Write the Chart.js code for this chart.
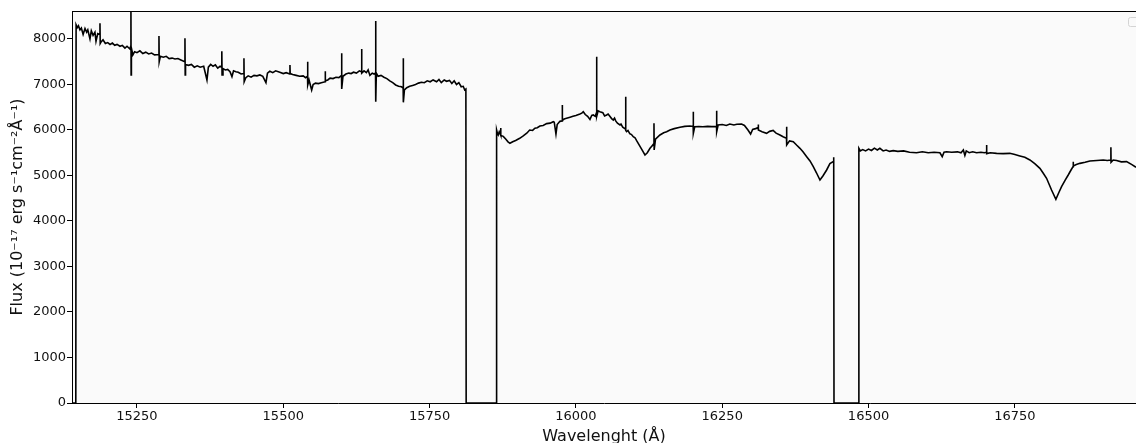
<!DOCTYPE html>
<html>
<head>
<meta charset="utf-8">
<script src="https://cdn.jsdelivr.net/npm/chart.js@4/dist/chart.umd.min.js"></script>
<style>
  body { margin: 0; background: #fff; overflow: hidden; }
</style>
</head>
<body>
<canvas id="spec" width="1136" height="443"></canvas>
<script>
// spectrum (wavelength in Å, flux in 1e-17 erg/s/cm2/Å)
const wavelength = [
  15140, 15145.5, 15146, 15148, 15150, 15152.6, 15155, 15158, 15161.2, 15164, 15166, 15169.7, 15172, 15175,
  15178.2, 15180, 15183, 15186.5, 15186.8, 15187.2, 15189, 15192, 15196, 15200, 15204, 15208, 15212, 15216,
  15221, 15225, 15229.5, 15233, 15238, 15239.5, 15239.7, 15240, 15240.5, 15243, 15246, 15250, 15255, 15260,
  15265, 15270, 15275, 15280, 15287.3, 15287.6, 15288, 15290, 15295, 15300, 15305, 15310, 15315, 15320,
  15325, 15331.7, 15332, 15332.4, 15333, 15338, 15343, 15348, 15353, 15358, 15364, 15369.6, 15372, 15376,
  15380, 15384, 15388, 15392, 15394.7, 15395, 15395.4, 15397, 15401, 15405, 15409, 15412.3, 15415, 15419,
  15423, 15428, 15432.5, 15432.8, 15433.2, 15436, 15440, 15445, 15450, 15455, 15460, 15465, 15470.4, 15473,
  15477, 15482, 15487, 15494, 15500, 15505, 15511, 15511.4, 15511.8, 15516, 15522, 15528, 15534, 15538,
  15541.4, 15541.6, 15541.9, 15544, 15548.5, 15551, 15555, 15560, 15565, 15571.5, 15571.7, 15572, 15576, 15580,
  15585, 15590, 15595, 15599.5, 15599.7, 15600, 15602, 15607, 15612, 15616, 15620, 15625, 15630, 15633.7,
  15633.9, 15634.2, 15638, 15642, 15645, 15648, 15652, 15655, 15657.6, 15657.8, 15658.2, 15659, 15662, 15667,
  15672, 15677, 15682, 15687, 15692, 15697, 15702, 15704.8, 15705, 15705.3, 15707, 15711, 15716, 15721,
  15726, 15731, 15736, 15741, 15746, 15751, 15756, 15762, 15766, 15770, 15775, 15779, 15784, 15788,
  15792, 15796, 15800, 15804, 15807.5, 15810, 15812, 15812.5, 15864,
  15864.5, 15866, 15867.3, 15869, 15871.1, 15871.3, 15872, 15875.9, 15880, 15884, 15887.3, 15892, 15897, 15904,
  15910, 15916, 15921, 15926, 15930, 15934, 15938.5, 15944, 15950, 15956, 15961.3, 15963, 15965.9, 15968,
  15972.7, 15976.5, 15976.7, 15977, 15980, 15984, 15990, 15995, 16000, 16006.9, 16010, 16012.6, 16016, 16020,
  16024, 16027, 16029.7, 16033, 16035.2, 16035.4, 16035.7, 16038, 16041, 16046, 16049, 16052.5, 16055, 16058,
  16061, 16063.9, 16066, 16068, 16071, 16075.3, 16077, 16080, 16084.8, 16085, 16085.3, 16086.7, 16089, 16092,
  16095, 16098, 16101, 16104, 16109.5, 16114, 16118, 16122, 16126.6, 16130, 16133.2, 16133.4, 16133.7, 16136,
  16143.6, 16150, 16155, 16160.7, 16168, 16177.8, 16186, 16194.8, 16200.3, 16200.5, 16200.8, 16203, 16210, 16217,
  16225, 16232, 16240.2, 16240.4, 16240.7, 16243, 16250, 16257, 16263, 16270, 16275, 16283, 16288, 16294,
  16298.5, 16302, 16307, 16311.3, 16311.5, 16312, 16318, 16325.8, 16331, 16337, 16342, 16348.6, 16354, 16359.8,
  16360, 16360.3, 16365, 16371.4, 16377, 16382.8, 16388, 16394.3, 16400, 16405.6, 16411, 16417, 16422, 16428.4,
  16434, 16439.8, 16440.5, 16441, 16483,
  16483.5, 16486, 16490, 16495, 16500, 16505, 16510, 16515, 16519.4, 16525, 16530, 16536, 16542.2, 16550,
  16560, 16570, 16582, 16592, 16602, 16612, 16622, 16625.9, 16629, 16633.3, 16642, 16652, 16658, 16662,
  16664.6, 16667, 16672, 16678, 16684.6, 16692, 16698, 16701.5, 16701.7, 16702, 16708, 16718.8, 16730, 16741.5,
  16750, 16758.6, 16767, 16775.7, 16784, 16792.8, 16798, 16804.2, 16812.7, 16820.1, 16825, 16829.8, 16836, 16841.2,
  16846, 16849.5, 16849.7, 16850, 16855, 16861.1, 16870, 16878.2, 16890, 16901, 16908, 16913.9, 16914.1, 16914.4,
  16918, 16923.8, 16932, 16940.9, 16950, 16957
];
const flux = [
  0, 0, 8310, 8250, 8290, 8200, 8240, 8100, 8230, 8150, 8200, 8000, 8180, 8080,
  8150, 7950, 8120, 8100, 8344, 7900, 7940, 7980, 7900, 7920, 7880, 7910, 7860, 7880,
  7840, 7860, 7800, 7840, 7780, 7850, 8700, 7209, 7800, 7650, 7720, 7700, 7740, 7680,
  7710, 7670, 7690, 7650, 7660, 8066, 7500, 7620, 7600, 7620, 7570, 7580, 7560, 7570,
  7540, 7500, 8015, 7209, 7440, 7420, 7440, 7380, 7410, 7380, 7400, 7099, 7380, 7440,
  7400, 7430, 7360, 7400, 7380, 7729, 7209, 7350, 7320, 7330, 7280, 7172, 7300, 7280,
  7270, 7230, 7240, 7575, 7062, 7150, 7190, 7160, 7200, 7190, 7210, 7180, 7040, 7250,
  7290, 7260, 7300, 7270, 7240, 7260, 7230, 7428, 7240, 7220, 7200, 7180, 7190, 7150,
  7180, 7502, 6989, 7100, 6879, 7000, 7030, 7020, 7040, 7060, 7290, 7080, 7100, 7140,
  7130, 7160, 7150, 7200, 7685, 6901, 7180, 7230, 7250, 7240, 7270, 7250, 7300, 7280,
  7780, 7250, 7300, 7260, 7320, 7200, 7250, 7230, 7250, 8396, 6622, 7250, 7180, 7200,
  7160, 7130, 7080, 7040, 6990, 6960, 6950, 6920, 7575, 6608, 6880, 6930, 6960, 6980,
  7000, 7030, 7050, 7040, 7080, 7060, 7100, 7060, 7110, 7040, 7100, 7070, 7090, 7020,
  7080, 7000, 7040, 6950, 6960, 6880, 6900, 0, 0,
  6000, 5920, 5890, 5960, 5900, 6044, 5880, 5860, 5800, 5740, 5707, 5740, 5770, 5817,
  5870, 5930, 6000, 5990, 6040, 6050, 6088, 6100, 6140, 6150, 6183, 6170, 5912, 6120,
  6190, 6200, 6549, 6210, 6240, 6256, 6280, 6300, 6320, 6352, 6370, 6400, 6340, 6300,
  6230, 6320, 6330, 6300, 6380, 7611, 6300, 6420, 6403, 6380, 6310, 6330, 6350, 6300,
  6250, 6220, 6260, 6200, 6150, 6110, 6130, 6060, 6020, 6733, 5990, 5963, 5990, 5920,
  5900, 5853, 5830, 5760, 5641, 5540, 5451, 5500, 5597, 5650, 5700, 6147, 5560, 5800,
  5890, 5940, 5960, 6000, 6030, 6059, 6080, 6088, 6080, 6403, 5927, 6070, 6073, 6070,
  6080, 6073, 6080, 6425, 5963, 6110, 6120, 6100, 6132, 6110, 6125, 6130, 6100, 6000,
  5912, 6010, 6030, 6050, 6120, 6000, 5960, 5927, 5970, 5990, 5930, 5890, 5850, 5820,
  6073, 5670, 5760, 5744, 5670, 5597, 5520, 5414, 5320, 5194, 5060, 4901, 4990, 5121,
  5260, 5304, 5400, 0, 0,
  5597, 5540, 5570, 5540, 5580, 5550, 5600, 5560, 5597, 5540, 5560, 5530, 5546, 5530,
  5540, 5510, 5500, 5520, 5500, 5510, 5500, 5414, 5510, 5523, 5510, 5520, 5500, 5560,
  5440, 5540, 5500, 5520, 5500, 5510, 5500, 5510, 5670, 5480, 5500, 5487, 5480, 5487,
  5460, 5429, 5400, 5341, 5260, 5158, 5060, 4938, 4681, 4477, 4620, 4755, 4900, 5011,
  5120, 5194, 5300, 5210, 5240, 5267, 5290, 5319, 5330, 5341, 5330, 5340, 5619, 5290,
  5340, 5330, 5300, 5304, 5240, 5180
];
const xTicks = [15250, 15500, 15750, 16000, 16250, 16500, 16750];
const yTicks = [0, 1000, 2000, 3000, 4000, 5000, 6000, 7000, 8000];

const points = wavelength.map((w, i) => ({ x: w, y: flux[i] }));

Chart.defaults.font.family = "'DejaVu Sans', sans-serif";
Chart.defaults.font.size = 13;
Chart.defaults.color = "#111";

// light panel background, top spine and the empty legend frame
const framePlugin = {
  id: "frame",
  beforeDraw(chart) {
    const { ctx, chartArea: a } = chart;
    ctx.save();
    ctx.fillStyle = "#fafafa";
    ctx.fillRect(a.left, a.top, a.right - a.left, a.bottom - a.top);
    ctx.restore();
  },
  afterDraw(chart) {
    const { ctx, chartArea: a } = chart;
    ctx.save();
    ctx.strokeStyle = "#000";
    ctx.lineWidth = 1;
    ctx.beginPath();
    ctx.moveTo(a.left, a.top + 0.5);
    ctx.lineTo(a.right, a.top + 0.5);
    ctx.stroke();
    ctx.strokeStyle = "#d4d4d4";
    ctx.beginPath();
    ctx.roundRect(a.right - 7.5, a.top + 6.5, 20, 9, 2);
    ctx.stroke();
    ctx.restore();
  },
};

new Chart(document.getElementById("spec"), {
  type: "line",
  data: {
    datasets: [
      {
        data: points,
        borderColor: "#000",
        borderWidth: 1.6,
        pointRadius: 0,
        tension: 0,
        fill: false,
      },
    ],
  },
  options: {
    responsive: false,
    animation: false,
    layout: { padding: { top: 11, left: 0, right: 0, bottom: 0 } },
    plugins: {
      legend: { display: false },
      tooltip: { enabled: false },
    },
    scales: {
      x: {
        type: "linear",
        min: 15139,
        max: 16957,
        afterBuildTicks: (s) => { s.ticks = xTicks.map((v) => ({ value: v })); },
        afterFit: (s) => { s.height = 40; },
        ticks: { padding: 1, color: "#111", callback: (v) => String(v), maxRotation: 0 },
        grid: { drawOnChartArea: false, drawTicks: true, tickLength: 5, color: "#000" },
        border: { display: true, color: "#000", width: 1 },
        title: {
          display: true,
          text: "Wavelenght (Å)",
          color: "#111",
          font: { size: 16, lineHeight: 1 },
          padding: { top: 0, bottom: -2 },
        },
      },
      y: {
        min: 0,
        max: 8615,
        afterBuildTicks: (s) => { s.ticks = yTicks.map((v) => ({ value: v })); },
        afterFit: (s) => { s.width = 72; },
        ticks: { padding: 1, color: "#111", callback: (v) => String(v) },
        grid: { drawOnChartArea: false, drawTicks: true, tickLength: 5, color: "#000" },
        border: { display: true, color: "#000", width: 1 },
        title: {
          display: true,
          text: "Flux (10⁻¹⁷ erg s⁻¹cm⁻²Å⁻¹)",
          color: "#111",
          font: { size: 16, lineHeight: 1 },
          padding: { top: 10, bottom: 0 },
        },
      },
    },
  },
  plugins: [framePlugin],
});
</script>
</body>
</html>
